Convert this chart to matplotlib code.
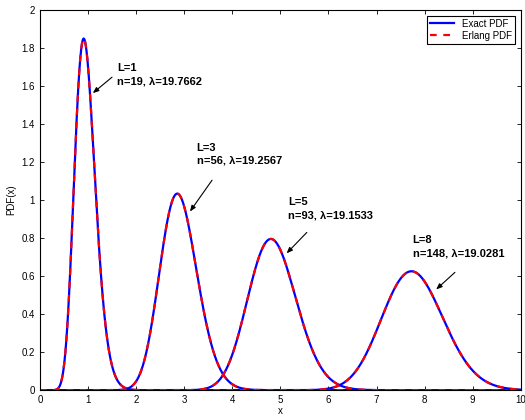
import math
import numpy as np
import matplotlib
matplotlib.use("Agg")
import matplotlib.pyplot as plt

plt.rcParams['font.family'] = ['Liberation Sans', 'DejaVu Sans']
plt.rcParams['font.size'] = 7

# Erlang parameters
L_vals = [1, 3, 5, 8]
n_vals = [19, 56, 93, 148]
lam_vals = [19.7662, 19.2567, 19.1533, 19.0281]

# label positions (data coords) and arrow tail/head
label_xy = [(1.60, 1.66), (3.26, 1.24), (5.16, 0.955), (7.75, 0.755)]
arrow_tail = [(1.50, 1.647), (3.58, 1.105), (5.55, 0.83), (8.63, 0.62)]
arrow_head = [(1.10, 1.563), (3.12, 0.94), (5.13, 0.72), (8.24, 0.53)]

x = np.linspace(0, 10, 2001)


def erlang_pdf(x, n, lam):
    # log form to avoid overflow for large n
    out = np.zeros_like(x)
    m = x > 0
    out[m] = np.exp(n * np.log(lam) + (n - 1) * np.log(x[m]) - lam * x[m] - math.lgamma(n))
    return out


fig = plt.figure(figsize=(5.25, 4.2), dpi=100)
ax = fig.add_axes([0.076, 0.071, 0.916, 0.905])

for i, (n, lam) in enumerate(zip(n_vals, lam_vals)):
    y = erlang_pdf(x, n, lam)
    ax.plot(x, y, color='blue', lw=1.6, label='Exact PDF' if i == 0 else None)
    ax.plot(x, y, color='red', lw=1.6, ls=(0, (3, 3)), label='Erlang PDF' if i == 0 else None)

for i in range(len(L_vals)):
    lx, ly = label_xy[i]
    ax.text(lx, ly, 'L=%d\nn=%d, λ=%.4f' % (L_vals[i], n_vals[i], lam_vals[i]),
            fontweight='bold', fontsize=8, va='center', ha='left', linespacing=1.35)
    ax.annotate('', xy=arrow_head[i], xytext=arrow_tail[i],
                arrowprops=dict(arrowstyle='-|>,head_length=0.5,head_width=0.2',
                                color='black', lw=0.8, shrinkA=0, shrinkB=0))

ax.set_xlim(0, 10)
ax.set_ylim(0, 2)
ax.set_xticks(np.arange(0, 11, 1))
ax.set_yticks(np.arange(0, 2.01, 0.2))
ax.set_yticklabels(['0', '0.2', '0.4', '0.6', '0.8', '1', '1.2', '1.4', '1.6', '1.8', '2'])
ax.tick_params(direction='in', top=True, right=True, length=3, width=0.6, labelsize=7)
for s in ax.spines.values():
    s.set_linewidth(0.8)
ax.set_xlabel('x', fontsize=7, labelpad=1)
ax.set_ylabel('PDF(x)', fontsize=7, labelpad=4)

leg = ax.legend(loc='upper right', fontsize=7, fancybox=False, edgecolor='black',
                framealpha=1, handlelength=2.5, borderaxespad=0.6, borderpad=0.3,
                labelspacing=0.2)
leg.get_frame().set_linewidth(0.8)

fig.savefig('out.png', dpi=100)
